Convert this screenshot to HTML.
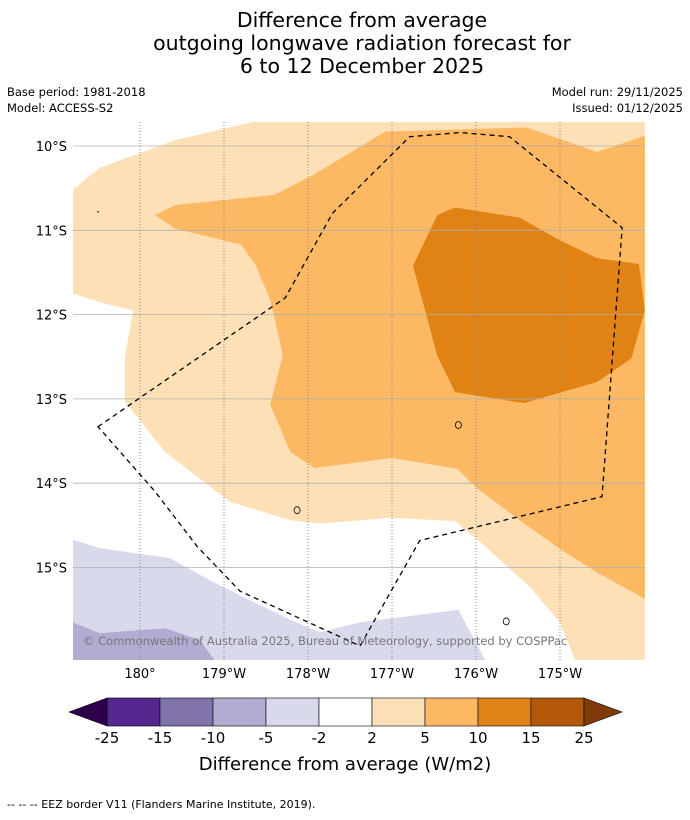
<!DOCTYPE html>
<html><head><meta charset="utf-8"><style>
body{margin:0;background:#fff;width:690px;height:816px;overflow:hidden;font-family:"DejaVu Sans","Liberation Sans",sans-serif}
</style></head><body>
<svg width="690" height="816" xmlns="http://www.w3.org/2000/svg" font-family="DejaVu Sans, Liberation Sans, sans-serif">
<g font-size="20.5" text-anchor="middle" fill="#000">
<text x="362" y="27">Difference from average</text>
<text x="362" y="50">outgoing longwave radiation forecast for</text>
<text x="362" y="73">6 to 12 December 2025</text>
</g>
<g font-size="11.5" fill="#000">
<text x="7" y="96">Base period: 1981-2018</text>
<text x="7" y="112">Model: ACCESS-S2</text>
<text x="683" y="96" text-anchor="end">Model run: 29/11/2025</text>
<text x="683" y="112" text-anchor="end">Issued: 01/12/2025</text>
</g>
<defs><clipPath id="mc"><rect x="73" y="122" width="572" height="538"/></clipPath></defs>
<g id="map" clip-path="url(#mc)"></g>
<g id="axes"></g>
<g id="cbar"></g>
<text x="345" y="770" font-size="18" text-anchor="middle">Difference from average (W/m2)</text>
<text x="7" y="808" font-size="11">--  --  -- EEZ border V11 (Flanders Marine Institute, 2019).</text>
</svg>
<script>
const lonTicks=[180,181,182,183,184,185];
const lonLabels=["180°","179°W","178°W","177°W","176°W","175°W"];
const latTicks=[10,11,12,13,14,15];
const latLabels=["10°S","11°S","12°S","13°S","14°S","15°S"];
const cbBounds=[-25,-15,-10,-5,-2,2,5,10,15,25];
const cbColors=["#54278f","#8073ac","#b2abd2","#d8daeb","#ffffff","#fee0b6","#fdb863","#e08214","#b35806"];
const cbUnder="#2d004b", cbOver="#7f3b08";
const light2to5=[[179.2,11.75],[179.58,11.87],[179.92,11.95],[179.82,12.5],[179.82,13.03],[180.3,13.63],[181.07,14.22],[181.79,14.44],[182.14,14.48],[182.98,14.41],[183.75,14.45],[184.04,14.69],[184.64,15.23],[185.0,15.65],[185.18,16.1],[186.01,16.1],[186.01,9.7],[181.41,9.7],[180.42,9.93],[179.52,10.26],[179.2,10.52]];
const mid5to10=[[180.18,10.82],[180.42,10.7],[181.6,10.58],[182.05,10.35],[182.92,9.83],[184.6,9.78],[185.44,10.07],[186.01,9.88],[186.01,15.37],[185.44,15.06],[185.0,14.78],[184.52,14.44],[184.0,14.05],[183.78,13.83],[183.0,13.7],[182.08,13.82],[181.79,13.63],[181.55,13.07],[181.7,12.48],[181.55,11.82],[181.37,11.4],[181.2,11.17],[180.42,10.98]];
const dark10to15=[[183.54,10.82],[183.75,10.73],[184.52,10.85],[185.0,11.12],[185.44,11.33],[185.94,11.4],[186.01,11.95],[185.85,12.52],[185.44,12.8],[184.57,13.05],[183.75,12.92],[183.54,12.49],[183.25,11.42]];
const purpleA=[[179.2,14.67],[179.52,14.77],[180.36,14.89],[180.83,15.15],[181.31,15.39],[181.79,15.62],[182.14,15.77],[182.62,15.65],[183.57,15.53],[183.79,15.5],[184.11,16.1],[179.2,16.1]];
const purpleB=[[179.2,15.65],[179.52,15.78],[180.3,15.72],[180.71,15.86],[180.89,16.1],[179.2,16.1]];
const eez=[[179.5,13.33],[181.73,11.8],[182.29,10.8],[183.21,9.89],[183.81,9.84],[184.4,9.89],[185.74,10.97],[185.5,14.16],[183.33,14.68],[182.62,15.93],[181.19,15.28],[180.68,14.75],[180.18,14.1]];
const islands=[[183.79,13.31],[181.87,14.32],[184.36,15.64]];
const dots=[[179.5,10.78]];

const X=lon=>140+(lon-180)*84;
const Y=lat=>146+(lat-10)*84.3;
const NS="http://www.w3.org/2000/svg";
function mk(tag,attrs,parent){const e=document.createElementNS(NS,tag);for(const k in attrs)e.setAttribute(k,attrs[k]);parent.appendChild(e);return e;}
const map=document.getElementById('map');
mk('rect',{x:73,y:122,width:572,height:538,fill:'#fff'},map);
function poly(pts,fill,name){const p=mk('polygon',{points:pts.map(q=>X(q[0])+','+Y(q[1])).join(' '),fill:fill},map);

}
poly(light2to5,'#fee0b6','contour-2-to-5');
poly(mid5to10,'#fdb863','contour-5-to-10');
poly(dark10to15,'#e08214','contour-10-to-15');
poly(purpleA,'#d8daeb','contour-neg5-to-neg2');
poly(purpleB,'#b2abd2','contour-neg10-to-neg5');
latTicks.forEach(l=>{const e=mk('line',{x1:73,x2:645,y1:Y(l),y2:Y(l),stroke:'#b0b0b0','stroke-width':0.8},map);

});
lonTicks.forEach(l=>{const e=mk('line',{x1:X(l),x2:X(l),y1:122,y2:660,stroke:'#888','stroke-width':1,'stroke-dasharray':'1,2'},map);

});
islands.forEach(q=>{const e=mk('ellipse',{cx:X(q[0]),cy:Y(q[1]),rx:3,ry:3.5,fill:'none',stroke:'#000','stroke-width':0.8},map);

});
dots.forEach(q=>{const e=mk('circle',{cx:X(q[0]),cy:Y(q[1]),r:0.8,fill:'#000'},map);

});
const ez=mk('polygon',{points:eez.map(q=>X(q[0])+','+Y(q[1])).join(' '),fill:'none',stroke:'#000','stroke-width':1.3,'stroke-dasharray':'5,4'},map);


const cp=mk('text',{x:83,y:645,'font-size':11.5,fill:'#777'},map);cp.textContent='© Commonwealth of Australia 2025, Bureau of Meteorology, supported by COSPPac';


const ax=document.getElementById('axes');
lonTicks.forEach((l,i)=>{const t=mk('text',{x:X(l),y:678,'font-size':13,'text-anchor':'middle'},ax);t.textContent=lonLabels[i];

});
latTicks.forEach((l,i)=>{const t=mk('text',{x:67,y:Y(l)+5,'font-size':13,'text-anchor':'end'},ax);t.textContent=latLabels[i];

});
const cb=document.getElementById('cbar');
const cx0=107,cw=53,cy=698,ch=28;
cbColors.forEach((c,i)=>{const r=mk('rect',{x:cx0+i*cw,y:cy,width:cw,height:ch,fill:c,stroke:'#000','stroke-width':0.6},cb);

});
const xe=cx0+cbColors.length*cw;
const u=mk('polygon',{points:`${cx0},${cy} ${cx0-38},${cy+ch/2} ${cx0},${cy+ch}`,fill:cbUnder,stroke:'#000','stroke-width':0.6},cb);


const o=mk('polygon',{points:`${xe},${cy} ${xe+38},${cy+ch/2} ${xe},${cy+ch}`,fill:cbOver,stroke:'#000','stroke-width':0.6},cb);


cbBounds.forEach((b,i)=>{const t=mk('text',{x:cx0+i*cw,y:743,'font-size':15,'text-anchor':'middle'},cb);t.textContent=String(b);

});
</script>
</body></html>
